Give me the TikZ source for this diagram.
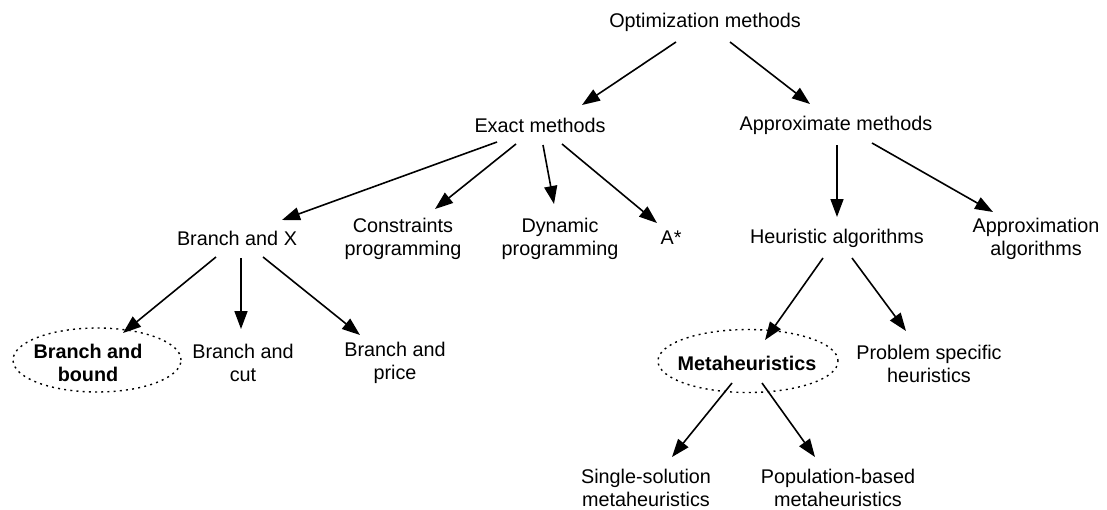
\documentclass[tikz,border=0pt]{standalone}
\usepackage{fontspec}
\setmainfont{Liberation Sans}
\usetikzlibrary{arrows.meta,shapes.geometric}
\begin{document}
\begin{tikzpicture}[x=1pt,y=-1pt,
  lbl/.style={inner sep=0pt,align=center,font=\fontsize{19.8}{23}\selectfont},
  bold/.style={lbl,font=\fontsize{19.8}{23}\selectfont\bfseries},
  halo/.style={draw,ellipse,line width=1.4pt,dash pattern=on 2pt off 4.2pt,inner sep=0pt},
  arr/.style={line width=1.6pt,-{Triangle[length=18pt,width=13pt]}}]
\useasboundingbox (0,0) rectangle (1107,509);
% nodes
\node[lbl] (opt) at (705,22) {Optimization methods};
\node[lbl] (ex) at (540,125) {Exact methods};
\node[lbl] (ap) at (836,125) {Approximate methods};
\node[lbl] (bx) at (237,238) {Branch and X};
\node[lbl] (cp) at (403,239) {Constraints\\programming};
\node[lbl] (dp) at (560,239) {Dynamic\\programming};
\node[lbl] (as) at (671,238) {A*};
\node[lbl] (ha) at (837,238) {Heuristic algorithms};
\node[lbl] (aa) at (1036,239) {Approximation\\algorithms};
\node[halo,minimum width=168pt,minimum height=64pt] (e1) at (97,360) {};
\node[bold] (bb) at (88,363) {Branch and\\bound};
\node[lbl] (bc) at (243,363) {Branch and\\cut};
\node[lbl] (bp) at (395,363) {Branch and\\price};
\node[halo,minimum width=180pt,minimum height=63pt] (e2) at (748,361) {};
\node[bold] (mh) at (747,363) {Metaheuristics};
\node[lbl] (ps) at (929,364) {Problem specific\\heuristics};
\node[lbl] (ss) at (646,488) {Single-solution\\metaheuristics};
\node[lbl] (pb) at (838,488) {Population-based\\metaheuristics};
% connectors
\draw[arr] ([shift={(-29,20)}]opt.center) -- ([shift={(42,-20)}]ex.center);
\draw[arr] ([shift={(25,20)}]opt.center) -- ([shift={(-26,-21)}]ap.center);
\draw[arr] ([shift={(-43,17)}]ex.center) -- ([shift={(45,-18)}]bx.center);
\draw[arr] ([shift={(-24,19)}]ex.center) -- ([shift={(32,-30)}]cp.center);
\draw[arr] ([shift={(3,20)}]ex.center) -- ([shift={(-6,-35)}]dp.center);
\draw[arr] ([shift={(22,19)}]ex.center) -- ([shift={(-14,-15)}]as.center);
\draw[arr] ([shift={(1,20)}]ap.center) -- ([shift={(0,-21)}]ha.center);
\draw[arr] ([shift={(36,18)}]ap.center) -- ([shift={(-43,-27)}]aa.center);
\draw[arr] ([shift={(-21,19)}]bx.center) -- ([shift={(26,-27)}]e1.center);
\draw[arr] ([shift={(4,20)}]bx.center) -- ([shift={(-2,-34)}]bc.center);
\draw[arr] ([shift={(26,19)}]bx.center) -- ([shift={(-35,-28)}]bp.center);
\draw[arr] ([shift={(-14,20)}]ha.center) -- ([shift={(17,-21)}]e2.center);
\draw[arr] ([shift={(15,20)}]ha.center) -- ([shift={(-23,-33)}]ps.center);
\draw[arr] ([shift={(-16,22)}]e2.center) -- ([shift={(26,-31)}]ss.center);
\draw[arr] ([shift={(14,22)}]e2.center) -- ([shift={(-23,-31)}]pb.center);
\end{tikzpicture}
\end{document}
